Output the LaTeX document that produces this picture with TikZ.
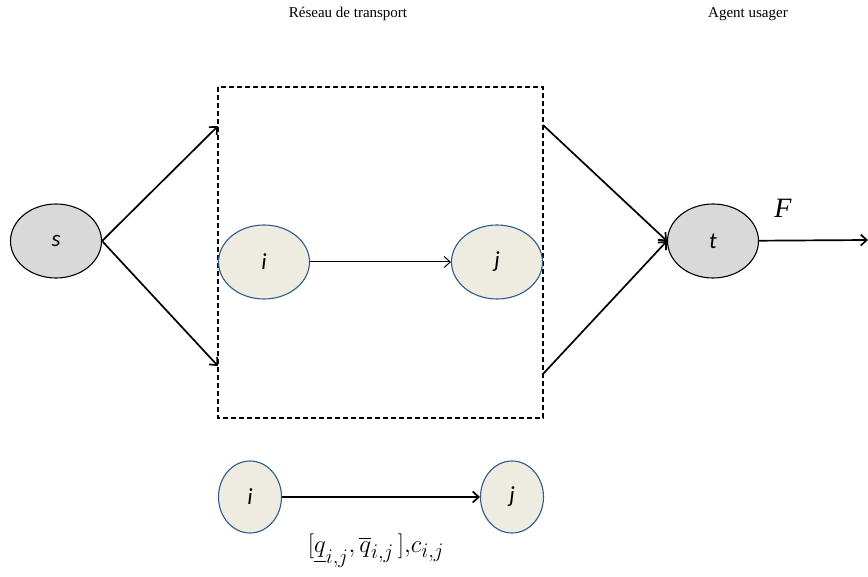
\documentclass[tikz,border=0pt]{standalone}
\usepackage{fontspec}
\setmainfont{Liberation Serif}
\newfontfamily\nodefont{Carlito}
\usepackage{amsmath}
\usetikzlibrary{arrows,arrows.meta,shapes.geometric}
\definecolor{nodegray}{HTML}{D9D9D9}
\definecolor{nodecream}{HTML}{EEECE1}
\definecolor{nodeblue}{HTML}{2F5B8C}

\begin{document}
\begin{tikzpicture}[x=1pt,y=-1pt,>={Straight Barb[length=6pt,width=11pt]}]
  \tikzstyle{terminal}=[ellipse,draw=black,line width=1.1pt,fill=nodegray,minimum width=91pt,
    minimum height=74pt,inner sep=0pt,font=\nodefont\itshape\fontsize{23}{23}\selectfont]
  \tikzstyle{arc}=[ellipse,draw=nodeblue,line width=1.1pt,fill=nodecream,minimum width=91pt,
    minimum height=74pt,inner sep=0pt,font=\nodefont\itshape\fontsize{23}{23}\selectfont]
  \tikzstyle{legend}=[arc,minimum width=63pt,minimum height=72pt]
  \tikzstyle{flow}=[->,line width=1.7pt]
  \useasboundingbox (0,0) rectangle (868,577);

  \node at (348,14) {\fontsize{15}{15}\selectfont Réseau de transport};
  \node at (748,14) {\fontsize{15}{15}\selectfont Agent usager};

  % reseau
  \draw[dash pattern=on 5pt off 3pt,line width=1.3pt] (218,87) rectangle (543,418);
  \coordinate (inTop) at (218,126);
  \coordinate (inBot) at (218,366);
  \coordinate (outTop) at (543,125);
  \coordinate (outBot) at (543,374);
  \coordinate (sink) at (868,240);

  \node[terminal] (s) at (56,241) {s};
  \node[arc] (i) at (264,262) {i};
  \node[arc] (j) at (497,262) {j};
  \node[terminal] (t) at (713,241) {t};

  \draw[flow] (s.east) -- (inTop);
  \draw[flow] (s.east) -- (inBot);
  \draw[->,line width=1pt] (i) -- (j);
  \draw[flow] (outTop) -- (t.west);
  \draw[flow] (outBot) -- (t.west);
  \draw[flow] (t) -- (sink);
  \node at (783,208) {\fontsize{28}{28}\selectfont\textit{F}};

  % legende
  \node[legend] (li) at (250,497) {i};
  \node[legend] (lj) at (512,497) {j};
  \draw[flow] (li) -- (lj);
  \node at (376,551) {\fontsize{29}{29}\selectfont$[\underline{q}_{i,j}{,}\,\overline{q}_{i,j}\,]{,}c_{i,j}$};
\end{tikzpicture}
\end{document}
